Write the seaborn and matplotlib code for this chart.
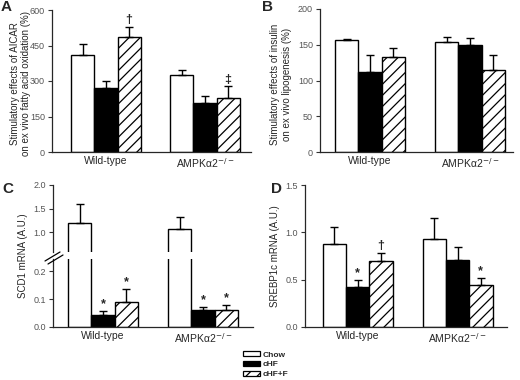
import matplotlib
matplotlib.use("Agg")
import matplotlib.pyplot as plt
import seaborn as sns
import pandas as pd
from matplotlib.patches import Patch
from matplotlib.lines import Line2D

# groups and diets
genotypes = ["Wild-type", "AMPKα2$^{-/-}$"]
diets = ["Chow", "cHF", "cHF+F"]

# values listed genotype-major, diet order inside
aicar_mean = [408, 272, 487, 325, 207, 228]
aicar_sem = [47, 28, 42, 21, 31, 49]
aicar_sig = ["", "", "†", "", "", "‡"]

insulin_mean = [156, 112, 133, 154, 149, 114]
insulin_sem = [2, 23, 13, 7, 10, 21]

scd1_mean = [1.19, 0.043, 0.09, 1.08, 0.06, 0.06]
scd1_sem = [0.41, 0.015, 0.045, 0.24, 0.012, 0.018]
scd1_sig = ["", "*", "*", "", "*", "*"]

srebp_mean = [0.88, 0.424, 0.695, 0.93, 0.71, 0.44]
srebp_sem = [0.18, 0.07, 0.085, 0.22, 0.13, 0.08]
srebp_sig = ["", "*", "†", "", "", "*"]

df = pd.DataFrame({
    "genotype": [g for g in genotypes for _ in diets],
    "diet": diets * len(genotypes),
    "aicar": aicar_mean, "aicar_sem": aicar_sem, "aicar_sig": aicar_sig,
    "insulin": insulin_mean, "insulin_sem": insulin_sem,
    "scd1": scd1_mean, "scd1_sem": scd1_sem, "scd1_sig": scd1_sig,
    "srebp": srebp_mean, "srebp_sem": srebp_sem, "srebp_sig": srebp_sig,
})

fills = {"Chow": "white", "cHF": "black", "cHF+F": "white"}
hatches = {"Chow": None, "cHF": None, "cHF+F": "///"}

sns.set_style("ticks")
plt.rcParams["font.family"] = ["Liberation Sans", "DejaVu Sans"]
plt.rcParams["hatch.linewidth"] = 0.9

W, H = 520, 380
fig = plt.figure(figsize=(W / 100, H / 100), dpi=100)


def px_axes(x0, y0, x1, y1):
    # pixel box (top-left origin) -> figure axes
    return fig.add_axes([x0 / W, 1 - y1 / H, (x1 - x0) / W, (y1 - y0) / H])


def bar_panel(ax, value, xlim, sig=None):
    sns.barplot(data=df, x="genotype", y=value, hue="diet", order=genotypes,
                hue_order=diets, width=0.7, errorbar=None, legend=False,
                saturation=1, ax=ax)
    for diet, cont in zip(diets, ax.containers):
        for geno, bar in zip(genotypes, cont):
            row = df[(df.genotype == geno) & (df.diet == diet)].iloc[0]
            bar.set_facecolor(fills[diet])
            bar.set_edgecolor("black")
            bar.set_linewidth(1)
            if hatches[diet]:
                bar.set_hatch(hatches[diet])
            xc = bar.get_x() + bar.get_width() / 2
            top = bar.get_height()
            err = row[value + "_sem"]
            ax.errorbar(xc, top, yerr=[[0], [err]], color="black", lw=1,
                        capsize=3, capthick=1)
            if sig and row[sig]:
                ax.annotate(row[sig], (xc, top + err), xytext=(0, 0.5),
                            textcoords="offset points", ha="center",
                            va="bottom", fontsize=9, fontweight="bold")
    ax.set_xlim(*xlim)
    ax.set_xlabel("")
    ax.set_ylabel("")
    sns.despine(ax=ax)
    ax.tick_params(axis="x", length=0, labelsize=7.5, pad=3)
    ax.tick_params(axis="y", length=3, width=0.8, labelsize=6.5, pad=2,
                   colors="#333333")
    ax.tick_params(axis="y", labelcolor="#555555")
    for s in ax.spines.values():
        s.set_linewidth(0.9)


# Panel A
axA = px_axes(52, 10, 251, 152)
bar_panel(axA, "aicar", (-0.545, 1.465), "aicar_sig")
axA.set_ylim(0, 600)
axA.set_yticks([0, 150, 300, 450, 600])
axA.set_ylabel("Stimulatory effects of AICAR\non ex vivo fatty acid oxidation (%)",
               fontsize=7, labelpad=3)
axA.yaxis.set_label_coords(-0.105, 0.48)

# Panel B
axB = px_axes(320, 9, 513, 152)
bar_panel(axB, "insulin", (-0.5, 1.43))
axB.set_ylim(0, 200)
axB.set_yticks([0, 50, 100, 150, 200])
axB.set_ylabel("Stimulatory effects of insulin\non ex vivo lipogenesis (%)",
               fontsize=7, labelpad=3)
axB.yaxis.set_label_coords(-0.145, 0.47)

# Panel C, broken y axis
axC_lo = px_axes(53, 259, 253, 327)
bar_panel(axC_lo, "scd1", (-0.5, 1.5), "scd1_sig")
axC_lo.set_ylim(0, 0.243)
axC_lo.set_yticks([0, 0.1, 0.2])
axC_lo.set_yticklabels(["0.0", "0.1", "0.2"])

axC_hi = px_axes(53, 185, 253, 252)
bar_panel(axC_hi, "scd1", (-0.5, 1.5))
axC_hi.set_ylim(0.583, 2.0)
axC_hi.set_yticks([1.0, 1.5, 2.0])
axC_hi.set_yticklabels(["1.0", "1.5", "2.0"])
axC_hi.spines["bottom"].set_visible(False)
axC_hi.set_xticks([])

for dx in (0, 3):
    fig.add_artist(Line2D([(45 + dx) / W, (60 + dx) / W],
                          [1 - (261 + dx) / H, 1 - (252 + dx) / H],
                          color="black", lw=0.9))
fig.text(23 / W, 1 - 256 / H, "SCD1 mRNA (A.U.)", rotation=90,
         ha="center", va="center", fontsize=7)

# Panel D
axD = px_axes(305, 185, 507, 327)
bar_panel(axD, "srebp", (-0.525, 1.495), "srebp_sig")
axD.set_ylim(0, 1.5)
axD.set_yticks([0, 0.5, 1.0, 1.5])
axD.set_yticklabels(["0.0", "0.5", "1.0", "1.5"])
axD.set_ylabel("SREBP1c mRNA (A.U.)", fontsize=7, labelpad=4)

# panel letters
for lx, ly, letter in [(1, 0, "A"), (262, 0, "B"), (2, 182, "C"), (271, 182, "D")]:
    fig.text(lx / W, 1 - ly / H, letter, ha="left", va="top",
             fontsize=11, fontweight="bold")

# legend
handles = [Patch(facecolor=fills[d], edgecolor="black", hatch=hatches[d], lw=0.9)
           for d in diets]
fig.legend(handles, diets, loc="lower left",
           bbox_to_anchor=(243 / W, 1 - 378 / H), frameon=False,
           prop={"size": 6, "weight": "bold"}, handlelength=2.0,
           handleheight=0.55, labelspacing=0.25, handletextpad=0.4,
           borderpad=0, borderaxespad=0)

fig.savefig("out.png", dpi=100)
